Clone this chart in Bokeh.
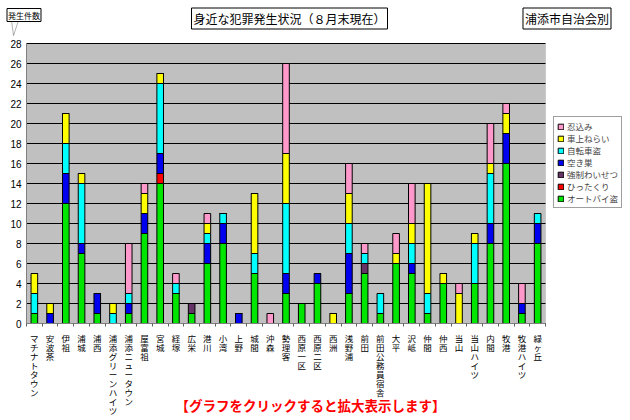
from bokeh.plotting import figure
from bokeh.models import (Range1d, FixedTicker, Legend, LegendItem, Label, BoxAnnotation,
                          PolyAnnotation, ColumnDataSource, LinearAxis)
from bokeh.embed import file_html
from bokeh.resources import INLINE

categories = ["マチナトタウン", "安波茶", "伊祖", "浦城", "浦西", "浦添グリーンハイツ",
              "浦添ニュータウン", "屋富祖", "宮城", "経塚", "広栄", "港川", "小湾", "上野",
              "城間", "沖森", "勢理客", "西原一区", "西原二区", "西洲", "浅野浦", "前田",
              "前田公務員宿舎", "大平", "沢岻", "仲間", "仲西", "当山", "当山ハイツ", "内間",
              "牧港", "牧港ハイツ", "緑ヶ丘"]

# stacked bottom -> top
autobike = [1, 0, 12, 7, 1, 0, 1, 9, 14, 3, 1, 6, 8, 0, 5, 0, 3, 2, 4, 0, 3, 5, 1, 6, 5, 1, 4, 0, 4, 8, 16, 1, 8]
hittakuri = [0, 0, 0, 0, 0, 0, 0, 0, 1, 0, 0, 0, 0, 0, 0, 0, 0, 0, 0, 0, 0, 0, 0, 0, 0, 0, 0, 0, 0, 0, 0, 0, 0]
waisetsu = [0, 0, 0, 0, 0, 0, 0, 0, 0, 0, 1, 0, 0, 0, 0, 0, 0, 0, 0, 0, 0, 1, 0, 0, 0, 0, 0, 0, 0, 0, 0, 0, 0]
akisu = [0, 1, 3, 1, 2, 0, 1, 2, 2, 0, 0, 2, 2, 1, 0, 0, 2, 0, 1, 0, 4, 0, 0, 0, 1, 0, 0, 0, 0, 2, 3, 1, 2]
jitensha = [2, 0, 3, 6, 0, 1, 1, 0, 7, 1, 0, 1, 1, 0, 2, 0, 7, 0, 0, 0, 3, 1, 2, 0, 2, 2, 0, 0, 4, 5, 0, 0, 1]
shajou = [2, 1, 3, 1, 0, 1, 0, 2, 1, 0, 0, 1, 0, 0, 6, 0, 5, 0, 0, 1, 3, 0, 0, 1, 2, 11, 1, 3, 1, 1, 2, 0, 0]
shinobi = [0, 0, 0, 0, 0, 0, 5, 1, 0, 1, 0, 1, 0, 0, 0, 1, 9, 0, 0, 0, 3, 1, 0, 2, 4, 0, 0, 1, 0, 4, 1, 2, 0]

series_names = ["オートバイ盗", "ひったくり", "強制わいせつ", "空き巣", "自転車盗", "車上ねらい", "忍込み"]
series_values = [autobike, hittakuri, waisetsu, akisu, jitensha, shajou, shinobi]
series_colors = ["#00E600", "#FF0000", "#663366", "#0000F0", "#00FFFF", "#FFFF00", "#FF99CC"]
y_ticks = list(range(0, 29, 2))

JP = "Noto Sans CJK JP"
n = len(categories)
xs = list(range(n))
keys = ["s%d" % i for i in range(len(series_names))]
data = {"x": xs}
for k, v in zip(keys, series_values):
    data[k] = v
source = ColumnDataSource(data)

# plot-area geometry on the 630x420 canvas (screen px)
W, H = 630, 420
PL, PR, PT, PB = 26, 545, 43, 323
YMAX = 28
XPX = (PR - PL) / n          # px per category
YPX = (PB - PT) / YMAX       # px per unit

# frame covers the whole canvas; ranges chosen so the plot area sits at PL..PR, PT..PB
x0 = -0.5 - PL / XPX
x1 = -0.5 + (W - PL) / XPX
y0 = -(H - PB) / YPX
y1 = YMAX + PT / YPX

p = figure(width=W, height=H, output_backend="svg", toolbar_location=None,
           x_range=Range1d(x0, x1), y_range=Range1d(y0, y1),
           x_axis_location=None, y_axis_location=None)
p.min_border = 0
p.min_border_left = p.min_border_right = p.min_border_top = p.min_border_bottom = 0
p.background_fill_color = "white"
p.border_fill_color = "white"
p.outline_line_color = None
p.xgrid.visible = False
p.ygrid.visible = False

# gray plot area
p.add_layout(BoxAnnotation(left=-0.5, right=n - 0.5, bottom=0, top=YMAX,
                           fill_color="#C0C0C0", fill_alpha=1, line_color="#9A9A9A",
                           line_width=1, level="underlay"))
# horizontal grid lines at the y ticks
p.segment(x0=[-0.5] * len(y_ticks), x1=[n - 0.5] * len(y_ticks), y0=y_ticks, y1=y_ticks,
          line_color="black", line_width=1)

rs = p.vbar_stack(keys, x="x", width=0.42, fill_color=series_colors, line_color="black",
                  line_width=1, source=source)

yax = LinearAxis(fixed_location=-0.5, bounds=(0, YMAX), ticker=FixedTicker(ticks=y_ticks))
yax.major_label_text_font = "Liberation Sans"
yax.major_label_text_font_size = "10px"
yax.major_label_text_color = "black"
yax.major_tick_out = 0
yax.major_tick_in = 0
yax.minor_tick_out = 0
yax.minor_tick_in = 0
yax.axis_line_color = "#808080"
yax.major_label_standoff = 5
p.add_layout(yax, "left")

xax = LinearAxis(fixed_location=0, bounds=(-0.5, n - 0.5),
                 ticker=FixedTicker(ticks=xs, minor_ticks=[i - 0.5 for i in range(n + 1)]))
xax.major_label_overrides = {i: "\n".join(c) for i, c in enumerate(categories)}
xax.major_label_text_font = JP
xax.major_label_text_font_size = "8.5px"
xax.major_label_text_line_height = 0.76
xax.major_label_text_color = "black"
xax.major_tick_out = 0
xax.major_tick_in = 0
xax.minor_tick_out = 3
xax.minor_tick_in = 0
xax.minor_tick_line_color = "#606060"
xax.axis_line_color = "#808080"
xax.major_label_standoff = 5
p.add_layout(xax, "below")

items = [LegendItem(label=nm, renderers=[r]) for nm, r in zip(series_names, rs)]
legend = Legend(items=items[::-1], location=(553, H - 208), orientation="vertical",
                label_text_font=JP, label_text_font_size="8.5px", label_height=8,
                glyph_height=7, glyph_width=7, spacing=0, padding=3, margin=0,
                label_standoff=3, border_line_color="#404040",
                background_fill_color="white", background_fill_alpha=1)
p.add_layout(legend, "center")

def dx(sx):
    return (sx - PL) / XPX - 0.5

def dy(sy):
    return (PB - sy) / YPX

def lab(text, cx, cy, size, color="black", bold=False, box=True, pad=2):
    kw = dict(x=dx(cx), y=dy(cy), text=text,
              text_font=JP, text_font_size=size, text_color=color,
              text_align="center", text_baseline="middle",
              text_font_style="bold" if bold else "normal")
    if box:
        kw.update(background_fill_color="white", border_line_color="black", padding=pad)
    p.add_layout(Label(**kw))

p.add_layout(PolyAnnotation(xs=[dx(11), dx(13), dx(18)], ys=[dy(20), dy(35), dy(20)],
                            fill_color="white", fill_alpha=1, line_color="black", line_width=1))
lab("発生件数", 23.5, 14.5, "8px", pad=1)
lab("身近な犯罪発生状況（８月末現在）", 289, 18, "12px", pad=2)
lab("浦添市自治会別", 566.5, 18, "12px", pad=2)
lab("【グラフをクリックすると拡大表示します】", 310, 404, "13.5px", color="#FF0000", bold=True, box=False)

open("out.html", "w").write(file_html(p, INLINE))
